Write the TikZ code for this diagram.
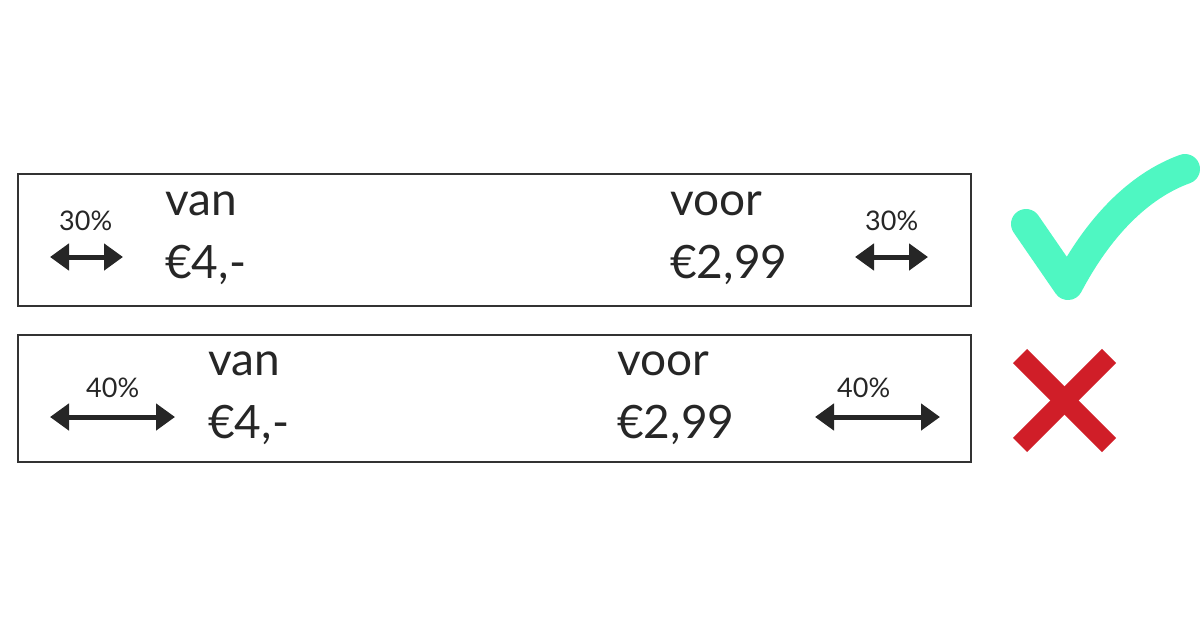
\documentclass[tikz,border=0pt]{standalone}
\usepackage{fontspec}
\setmainfont{Lato}
\usetikzlibrary{arrows.meta}
\definecolor{ink}{HTML}{262626}
\definecolor{boxline}{HTML}{333333}
\definecolor{okgreen}{HTML}{4FF7C2}
\definecolor{badred}{HTML}{D01E28}
\tikzset{
  pricebox/.style={draw=boxline, line width=1.5pt},
  bigtext/.style={anchor=base west, inner sep=0pt, text=ink, font=\fontsize{46}{50}\selectfont},
  pct/.style={anchor=base west, inner sep=0pt, text=ink, font=\fontsize{27}{31}\selectfont},
  dbl/.style={line width=5pt, draw=ink, {Triangle[length=19pt,width=26pt]}-{Triangle[length=19pt,width=26pt]}},
}
\begin{document}
\begin{tikzpicture}[x=1pt,y=-1pt]
\useasboundingbox (0,0) rectangle (1200,627);
% boxes
\draw[pricebox] (18,174) rectangle (971,306);
\draw[pricebox] (18,335) rectangle (971,462);
% row 1
\node[pct] (p1l) at (59,230) {30\%};
\node[pct] (p1r) at (865,230) {30\%};
\coordinate (a1l) at (50,257); \coordinate (b1l) at (123,257);
\coordinate (a1r) at (855,257); \coordinate (b1r) at (928,257);
\draw[dbl] (a1l) -- (b1l);
\draw[dbl] (a1r) -- (b1r);
\node[bigtext] (van1) at (165,215) {van};
\node[bigtext] (old1) at (165,278) {€4,-};
\node[bigtext] (voor1) at (670,215) {voor};
\node[bigtext] (new1) at (670,278) {€2,99};
% row 2
\node[pct] (p2l) at (86,397) {40\%};
\node[pct] (p2r) at (837,397) {40\%};
\coordinate (a2l) at (50,417); \coordinate (b2l) at (175,417);
\coordinate (a2r) at (815,417); \coordinate (b2r) at (940,417);
\draw[dbl] (a2l) -- (b2l);
\draw[dbl] (a2r) -- (b2r);
\node[bigtext] (van2) at (208,375) {van};
\node[bigtext] (old2) at (208,438) {€4,-};
\node[bigtext] (voor2) at (617,375) {voor};
\node[bigtext] (new2) at (617,438) {€2,99};
% check mark
\draw[okgreen, line width=30pt, line cap=round, line join=round]
  (1026,224) -- (1068,285) .. controls (1098,228) and (1138,186) .. (1185,169);
% cross
\draw[badred, line width=20pt] (1020,356) -- (1109,445);
\draw[badred, line width=20pt] (1109,356) -- (1020,445);
\end{tikzpicture}
\end{document}
